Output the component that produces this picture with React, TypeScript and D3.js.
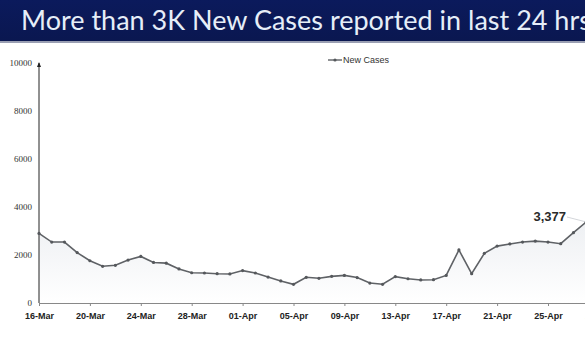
import React, {useEffect, useRef} from 'react';
import * as d3 from 'd3';

// daily new cases, 16-Mar .. 28-Apr
const startDate = '2020-03-16';
const newCases = [
  2900, 2540, 2540, 2100, 1760, 1530, 1570, 1790, 1940, 1690, 1660, 1420, 1260,
  1250, 1220, 1210, 1350, 1250, 1080, 920, 780, 1070, 1030, 1110, 1150, 1060,
  830, 780, 1100, 1010, 960, 970, 1150, 2210, 1220, 2070, 2370, 2460, 2540,
  2580, 2540, 2470, 2930, 3377,
];
const yTicks = [0, 2000, 4000, 6000, 8000, 10000];
const title = 'More than 3K New Cases reported in last 24 hrs';
const seriesName = 'New Cases';
const lastLabel = '3,377';

const W = 585;
const H = 351;

const App: React.FC = () => {
  const svgRef = useRef<SVGSVGElement | null>(null);

  useEffect(() => {
    if (!svgRef.current) return;
    const svg = d3.select(svgRef.current);
    svg.selectAll('*').remove();

    const parse = d3.timeParse('%Y-%m-%d');
    const start = parse(startDate)!;
    const data = newCases.map((v, i) => ({date: d3.timeDay.offset(start, i), value: v}));

    const x = d3
      .scaleTime()
      .domain([start, d3.timeDay.offset(start, 40)])
      .range([39, 548]);
    const y = d3.scaleLinear().domain([0, 10000]).range([303, 63]);

    // banner
    const defs = svg.append('defs');
    const grad = defs
      .append('linearGradient')
      .attr('id', 'banner')
      .attr('x1', 0)
      .attr('x2', 0)
      .attr('y1', 0)
      .attr('y2', 1);
    grad.append('stop').attr('offset', '0%').attr('stop-color', '#0b1a5c');
    grad.append('stop').attr('offset', '100%').attr('stop-color', '#0a1750');
    const area = defs
      .append('linearGradient')
      .attr('id', 'shade')
      .attr('x1', 0)
      .attr('x2', 0)
      .attr('y1', 0)
      .attr('y2', 1);
    area.append('stop').attr('offset', '0%').attr('stop-color', '#eef0f3');
    area.append('stop').attr('offset', '100%').attr('stop-color', '#ffffff');

    svg.append('rect').attr('width', W).attr('height', H).attr('fill', '#fff');
    svg.append('rect').attr('width', W).attr('height', 41).attr('fill', 'url(#banner)');
    svg.append('rect').attr('y', 41).attr('width', W).attr('height', 2).attr('fill', '#9a9fb3');
    svg
      .append('text')
      .attr('x', 21)
      .attr('y', 30)
      .attr('fill', '#e6eef8')
      .style('font-family', 'Lato, sans-serif')
      .style('font-size', '27px')
      .text(title);

    // soft shading under the line
    svg
      .append('path')
      .datum(data)
      .attr('fill', 'url(#shade)')
      .attr(
        'd',
        d3
          .area<{date: Date; value: number}>()
          .x((d) => x(d.date))
          .y0(303)
          .y1((d) => y(d.value))
      );

    // y axis
    const yAxis = svg.append('g').attr('transform', 'translate(39,0)');
    yAxis
      .append('line')
      .attr('y1', y(0))
      .attr('y2', y(10000))
      .attr('stroke', '#222')
      .attr('stroke-width', 1);
    yAxis
      .append('path')
      .attr('d', `M-2,${y(10000) + 4}L0,${y(10000) - 1}L2,${y(10000) + 4}Z`)
      .attr('fill', '#222');
    yAxis
      .selectAll('text')
      .data(yTicks)
      .enter()
      .append('text')
      .attr('x', -7)
      .attr('y', (d) => y(d) + 3)
      .attr('text-anchor', 'end')
      .attr('fill', '#333')
      .style('font-family', '"Liberation Serif", serif')
      .style('font-size', '9px')
      .text((d) => String(d));

    // x axis, a tick every 4 days from the first date (last one runs off the edge)
    const xTicks = d3.timeDay.range(start, d3.timeDay.offset(start, 45), 4);
    const xAxis = d3
      .axisBottom(x)
      .tickValues(xTicks)
      .tickFormat((d) => d3.timeFormat('%d-%b')(d as Date))
      .tickSize(3)
      .tickSizeOuter(0);
    const xg = svg
      .append('g')
      .attr('transform', 'translate(0,303)')
      .call(xAxis);
    xg.select('.domain').attr('stroke', '#888').attr('d', `M39,0.5H${W}`);
    xg.selectAll('.tick line').attr('stroke', '#888');
    xg.selectAll('.tick text')
      .attr('y', 10)
      .attr('fill', '#222')
      .style('font-family', '"Liberation Sans", Arial, sans-serif')
      .style('font-weight', 'bold')
      .style('font-size', '9px');

    // line
    svg
      .append('path')
      .datum(data)
      .attr('fill', 'none')
      .attr('stroke', '#5f6266')
      .attr('stroke-width', 1.6)
      .attr(
        'd',
        d3
          .line<{date: Date; value: number}>()
          .x((d) => x(d.date))
          .y((d) => y(d.value))
      );
    svg
      .append('g')
      .selectAll('circle')
      .data(data)
      .enter()
      .append('circle')
      .attr('cx', (d) => x(d.date))
      .attr('cy', (d) => y(d.value))
      .attr('r', 1.6)
      .attr('fill', '#55585c');

    // last value label
    const last = data[data.length - 1];
    svg
      .append('line')
      .attr('x1', 567)
      .attr('y1', 217)
      .attr('x2', x(last.date))
      .attr('y2', y(last.value))
      .attr('stroke', '#c8ccd0')
      .attr('stroke-width', 0.8);
    svg
      .append('text')
      .attr('x', 566)
      .attr('y', 221)
      .attr('text-anchor', 'end')
      .attr('fill', '#2a2a2a')
      .style('font-family', '"Liberation Sans", Arial, sans-serif')
      .style('font-weight', 'bold')
      .style('font-size', '13px')
      .text(lastLabel);

    // legend
    const lg = svg.append('g').attr('transform', 'translate(328,60)');
    lg.append('line').attr('x1', 0).attr('x2', 14).attr('stroke', '#5f6266').attr('stroke-width', 1.4);
    lg.append('circle').attr('cx', 7).attr('r', 1.6).attr('fill', '#55585c');
    lg.append('text')
      .attr('x', 15)
      .attr('y', 3)
      .attr('fill', '#333')
      .style('font-family', '"Liberation Sans", Arial, sans-serif')
      .style('font-size', '9px')
      .text(seriesName);
  }, []);

  return (
    <svg
      ref={svgRef}
      width={W}
      height={H}
      style={{position: 'absolute', left: 0, top: 0, display: 'block'}}
    />
  );
};

export default App;
